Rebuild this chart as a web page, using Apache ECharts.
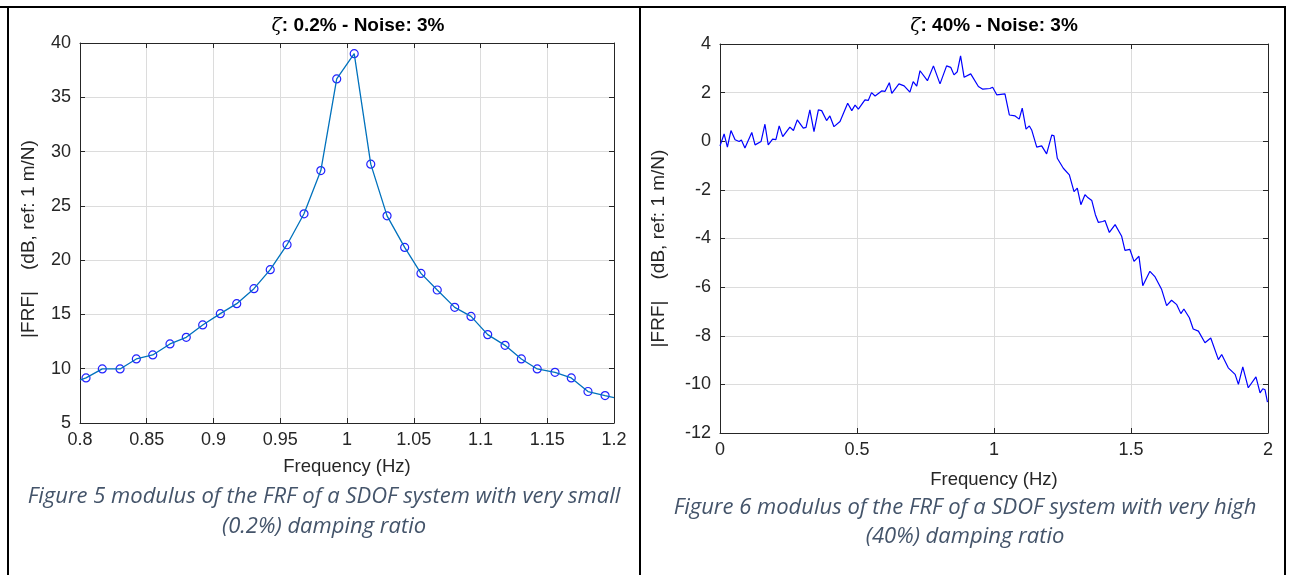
<!DOCTYPE html>
<html>
<head>
<meta charset="utf-8">
<script src="https://cdn.jsdelivr.net/npm/echarts@6/dist/echarts.min.js"></script>
<style>
  html, body { margin: 0; padding: 0; background: #fff; }
  #chart { width: 1290px; height: 575px; }
</style>
</head>
<body>
<div id="chart"></div>
<script>
// Figure 5 : zeta 0.2 %, measured points (Hz, dB)
var freqA = [0.8045, 0.8167, 0.8300, 0.8422, 0.8545, 0.8674, 0.8796, 0.8919,
             0.9051, 0.9174, 0.9303, 0.9425, 0.9551, 0.9678, 0.9804, 0.9923,
             1.0054, 1.0178, 1.0300, 1.0432, 1.0554, 1.0676, 1.0807, 1.0929,
             1.1054, 1.1184, 1.1306, 1.1425, 1.1558, 1.1680, 1.1805, 1.1933];
var magA = [9.15, 9.98, 9.98, 10.90, 11.27, 12.28, 12.89, 14.03,
            15.07, 15.99, 17.37, 19.12, 21.42, 24.27, 28.25, 36.69,
            39.02, 28.84, 24.08, 21.17, 18.78, 17.25, 15.65, 14.82,
            13.14, 12.15, 10.90, 9.98, 9.67, 9.15, 7.90, 7.53];
// where the line leaves the plot box on each side
var edgeFreqA = [0.8, 1.2];
var edgeMagA = [8.95, 7.34];
var xTicksA = [0.8, 0.85, 0.9, 0.95, 1, 1.05, 1.1, 1.15, 1.2];
var yTicksA = [5, 10, 15, 20, 25, 30, 35, 40];

// Figure 6 : zeta 40 %
var freqB = [0.000, 0.015, 0.027, 0.040, 0.055, 0.070, 0.078, 0.091, 0.116, 0.128,
             0.150, 0.164, 0.176, 0.192, 0.204, 0.216, 0.229, 0.255, 0.268, 0.282,
             0.304, 0.314, 0.328, 0.343, 0.359, 0.371, 0.389, 0.401, 0.416, 0.438,
             0.466, 0.481, 0.493, 0.505, 0.529, 0.541, 0.553, 0.566, 0.590, 0.602,
             0.618, 0.627, 0.653, 0.672, 0.693, 0.705, 0.718, 0.730, 0.757, 0.779,
             0.803, 0.827, 0.842, 0.854, 0.866, 0.878, 0.891, 0.915, 0.943, 0.959,
             0.985, 0.995, 1.010, 1.040, 1.056, 1.077, 1.092, 1.103, 1.117, 1.129,
             1.138, 1.156, 1.174, 1.192, 1.211, 1.219, 1.231, 1.253, 1.275, 1.292,
             1.304, 1.317, 1.332, 1.341, 1.357, 1.370, 1.381, 1.397, 1.405, 1.421,
             1.442, 1.466, 1.478, 1.496, 1.511, 1.529, 1.543, 1.569, 1.588, 1.612,
             1.630, 1.648, 1.667, 1.682, 1.693, 1.713, 1.727, 1.746, 1.770, 1.791,
             1.819, 1.831, 1.855, 1.880, 1.892, 1.908, 1.928, 1.956, 1.971, 1.981,
             1.989, 1.998];
var magB = [-0.19, 0.30, -0.24, 0.44, 0.06, -0.01, 0.05, -0.28, 0.36, -0.15,
            -0.01, 0.70, -0.15, 0.09, 0.07, 0.63, 0.19, 0.58, 0.44, 0.88,
            0.54, 0.57, 1.29, 0.40, 1.29, 1.26, 0.85, 1.04, 0.60, 0.81,
            1.56, 1.26, 1.49, 1.32, 1.70, 1.68, 2.00, 1.86, 2.07, 2.05,
            2.41, 1.97, 2.36, 2.28, 2.02, 2.45, 2.27, 2.90, 2.49, 3.10,
            2.36, 3.10, 3.04, 2.73, 2.86, 3.51, 2.63, 2.77, 2.25, 2.14,
            2.17, 2.22, 1.91, 1.95, 1.08, 1.04, 0.91, 1.36, 0.50, 0.63,
            0.45, -0.24, -0.19, -0.52, 0.26, 0.22, -0.70, -1.11, -1.38, -2.07,
            -1.93, -2.61, -2.20, -2.30, -2.44, -3.02, -3.34, -3.30, -3.26, -3.75,
            -3.43, -3.91, -4.49, -4.45, -4.94, -4.73, -5.94, -5.35, -5.58, -6.10,
            -6.76, -6.54, -6.72, -7.09, -6.90, -7.26, -7.72, -7.81, -8.29, -8.09,
            -8.98, -8.77, -9.32, -9.59, -10.00, -9.28, -10.14, -9.69, -10.35, -10.18,
            -10.22, -10.73];
var xTicksB = [0, 0.5, 1, 1.5, 2];
var yTicksB = [-12, -10, -8, -6, -4, -2, 0, 2, 4];

var axisColor = '#262626';
var tickFont = 'Liberation Sans, Arial, sans-serif';

function pairs(xs, ys) {
    var out = [];
    for (var k = 0; k < xs.length; k++) out.push([xs[k], ys[k]]);
    return out;
}

function tidy(v) {
    return String(parseFloat(v.toFixed(6)));
}

function baseAxis(ticks, grid) {
    return {
        type: 'value', gridIndex: grid,
        min: ticks[0], max: ticks[ticks.length - 1],
        interval: parseFloat((ticks[1] - ticks[0]).toFixed(6)),
        axisLine: { show: true, onZero: false, lineStyle: { color: axisColor, width: 1 } },
        axisTick: { show: true, inside: true, length: 5, lineStyle: { color: axisColor } },
        splitLine: { show: false }
    };
}

// one MATLAB style box: labelled axis + a mirror axis with inward ticks
function xAxes(ticks, grid, name, gap) {
    var bottom = Object.assign(baseAxis(ticks, grid), {
        position: 'bottom',
        name: name, nameLocation: 'middle', nameGap: gap,
        nameTextStyle: { color: axisColor, fontSize: 18.5, fontFamily: tickFont },
        axisLabel: { color: axisColor, fontSize: 18, fontFamily: tickFont, margin: 8, formatter: tidy },
        splitLine: { show: true, lineStyle: { color: '#dcdcdc', width: 1 } }
    });
    var top = Object.assign(baseAxis(ticks, grid), { position: 'top', axisLabel: { show: false } });
    return [bottom, top];
}

function yAxes(ticks, grid, name, gap, shift) {
    var left = Object.assign(baseAxis(ticks, grid), {
        position: 'left',
        name: name, nameLocation: 'middle', nameGap: gap,
        nameTextStyle: { color: axisColor, fontSize: 19, fontFamily: tickFont, padding: [0, shift, 0, 0] },
        axisLabel: { color: axisColor, fontSize: 18, fontFamily: tickFont, margin: 9, formatter: tidy },
        splitLine: { show: true, lineStyle: { color: '#dcdcdc', width: 1 } }
    });
    var right = Object.assign(baseAxis(ticks, grid), { position: 'right', axisLabel: { show: false } });
    return [left, right];
}

var yName = '|FRF|    (dB, ref: 1 m/N)';

var titleRich = {
    z: { fontFamily: 'DejaVu Serif', fontStyle: 'italic', fontSize: 19, color: '#000' },
    b: { fontFamily: tickFont, fontWeight: 'bold', fontSize: 19, color: '#000' }
};
var capStyle = { fontFamily: 'Open Sans', fontStyle: 'italic', fontSize: 22, fill: '#44546A' };

function label(x, y, text, style) {
    var s = Object.assign({ text: text, textAlign: 'center', textVerticalAlign: 'middle',
                            align: 'center', verticalAlign: 'middle' }, style);
    return { type: 'text', x: x, y: y, style: s, z: 10 };
}
function rule(x1, y1, x2, y2) {
    return { type: 'line', shape: { x1: x1, y1: y1, x2: x2, y2: y2 },
             style: { stroke: '#000', lineWidth: 2 }, z: 10 };
}

var lineA = pairs(freqA, magA);
lineA.unshift([edgeFreqA[0], edgeMagA[0]]);
lineA.push([edgeFreqA[1], edgeMagA[1]]);

var chart = echarts.init(document.getElementById('chart'));
chart.setOption({
    animation: false,
    backgroundColor: '#fff',
    grid: [
        { left: 80, top: 43, width: 534, height: 380 },
        { left: 720, top: 44, width: 548, height: 389 }
    ],
    xAxis: xAxes(xTicksA, 0, 'Frequency (Hz)', 34).concat(xAxes(xTicksB, 1, 'Frequency (Hz)', 37)),
    yAxis: yAxes(yTicksA, 0, yName, 42, 12).concat(yAxes(yTicksB, 1, yName, 52, 20)),
    series: [
        {
            type: 'line', xAxisIndex: 0, yAxisIndex: 0,
            data: lineA, symbol: 'none', silent: true,
            lineStyle: { color: '#0072BD', width: 1.3 }
        },
        {
            type: 'scatter', xAxisIndex: 0, yAxisIndex: 0,
            data: pairs(freqA, magA), symbol: 'circle', symbolSize: 8,
            itemStyle: { color: 'rgba(0,0,0,0)', borderColor: '#2222ff', borderWidth: 1.2, opacity: 1 }
        },
        {
            type: 'line', xAxisIndex: 2, yAxisIndex: 2,
            data: pairs(freqB, magB), symbol: 'none', silent: true,
            lineStyle: { color: '#0000ff', width: 1.2 }
        }
    ],
    graphic: [
        rule(0, 7, 1286, 7),
        rule(8, 7, 8, 575),
        rule(640, 7, 640, 575),
        rule(1285, 7, 1285, 575),
        label(358, 26, '{z|ζ}{b|: 0.2% - Noise: 3%}', { rich: titleRich }),
        label(994, 26, '{z|ζ}{b|: 40% - Noise: 3%}', { rich: titleRich }),
        label(324, 497, 'Figure 5 modulus of the FRF of a SDOF system with very small', capStyle),
        label(324, 527, '(0.2%) damping ratio', capStyle),
        label(965, 508, 'Figure 6 modulus of the FRF of a SDOF system with very high', capStyle),
        label(965, 537, '(40%) damping ratio', capStyle)
    ]
});
</script>
</body>
</html>
